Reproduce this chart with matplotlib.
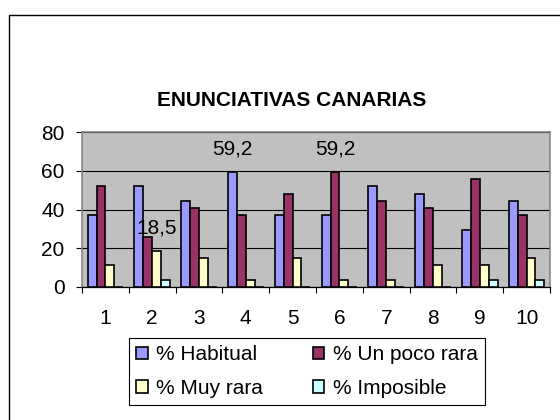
import numpy as np
import matplotlib.pyplot as plt
from matplotlib.patches import Rectangle

plt.rcParams['font.family'] = ['Liberation Sans', 'DejaVu Sans']

categories = ['1', '2', '3', '4', '5', '6', '7', '8', '9', '10']
habitual = [37.0, 51.9, 44.4, 59.2, 37.0, 37.0, 51.9, 48.1, 29.6, 44.4]
poco_rara = [51.9, 25.9, 40.7, 37.0, 48.1, 59.2, 44.4, 40.7, 55.6, 37.0]
muy_rara = [11.1, 18.5, 14.8, 3.7, 14.8, 3.7, 3.7, 11.1, 11.1, 14.8]
imposible = [0.0, 3.7, 0.0, 0.0, 0.0, 0.0, 0.0, 0.0, 3.7, 3.7]
series_names = ['% Habitual', '% Un poco rara', '% Muy rara', '% Imposible']
colors = ['#9999FF', '#993366', '#FFFFCC', '#CCFFFF']
# (series index, category index) of the bars that carry a value label
labelled = [(0, 3), (1, 5), (2, 1)]

series = [habitual, poco_rara, muy_rara, imposible]

fig = plt.figure(figsize=(5.6, 4.2), dpi=100)
ax = fig.add_axes([82 / 560, 1 - 287 / 420, 468 / 560, 155 / 420])
ax.set_facecolor('#C0C0C0')

x = np.arange(len(categories))
w = 0.19
containers = []
for k, vals in enumerate(series):
    bars = ax.bar(x + (k - 1.5) * w, vals, width=w, color=colors[k],
                  edgecolor='black', linewidth=1.2, label=series_names[k], zorder=3)
    containers.append(bars)

for k, i in labelled:
    v = series[k][i]
    ax.annotate(f'{v:.1f}'.replace('.', ','), (x[i] + (k - 1.5) * w, v),
                xytext=(0, 17), textcoords='offset points',
                ha='center', va='center', fontsize=15, zorder=4)

ax.set_xlim(-0.5, len(categories) - 0.5)
ax.set_ylim(0, 80)
ax.set_yticks([0, 20, 40, 60, 80])
ax.yaxis.grid(True, color='black', linewidth=0.8, zorder=1)
ax.set_axisbelow(True)

ax.set_xticks(np.arange(-0.5, len(categories), 1))
ax.set_xticklabels([])
ax.set_xticks(x, minor=True)
ax.set_xticklabels(categories, minor=True)
ax.tick_params(axis='x', which='major', length=4.5, width=0.8, direction='out')
ax.tick_params(axis='x', which='minor', length=0, pad=15.5, labelsize=15)
ax.tick_params(axis='y', length=4.5, width=0.8, direction='out', pad=8, labelsize=15)

for s in ['top', 'right', 'left']:
    ax.spines[s].set_color('#808080')
    ax.spines[s].set_linewidth(1.1)
ax.spines['bottom'].set_color('black')
ax.spines['bottom'].set_linewidth(0.9)

fig.text(292 / 560, 1 - 100 / 420, 'ENUNCIATIVAS CANARIAS', ha='center', va='center',
         fontsize=15, fontweight='bold')

handles = [containers[0], containers[2], containers[1], containers[3]]
labels = [series_names[0], series_names[2], series_names[1], series_names[3]]
leg = fig.legend(handles, labels, ncol=2, loc='upper left',
                 bbox_to_anchor=(129 / 560, 1 - 338 / 420), fontsize=15,
                 frameon=True, fancybox=False, edgecolor='black', framealpha=1,
                 handlelength=0.55, handleheight=0.55, handletextpad=0.4,
                 columnspacing=2.4, borderpad=0.35, labelspacing=0.7,
                 borderaxespad=0)
leg.get_frame().set_linewidth(0.8)

fig.patches.append(Rectangle((8.5 / 560, -0.1), 1.2, 1.1 - 14.5 / 420,
                             transform=fig.transFigure, fill=False,
                             edgecolor='black', linewidth=1.0))

fig.savefig('out.png', dpi=100)
